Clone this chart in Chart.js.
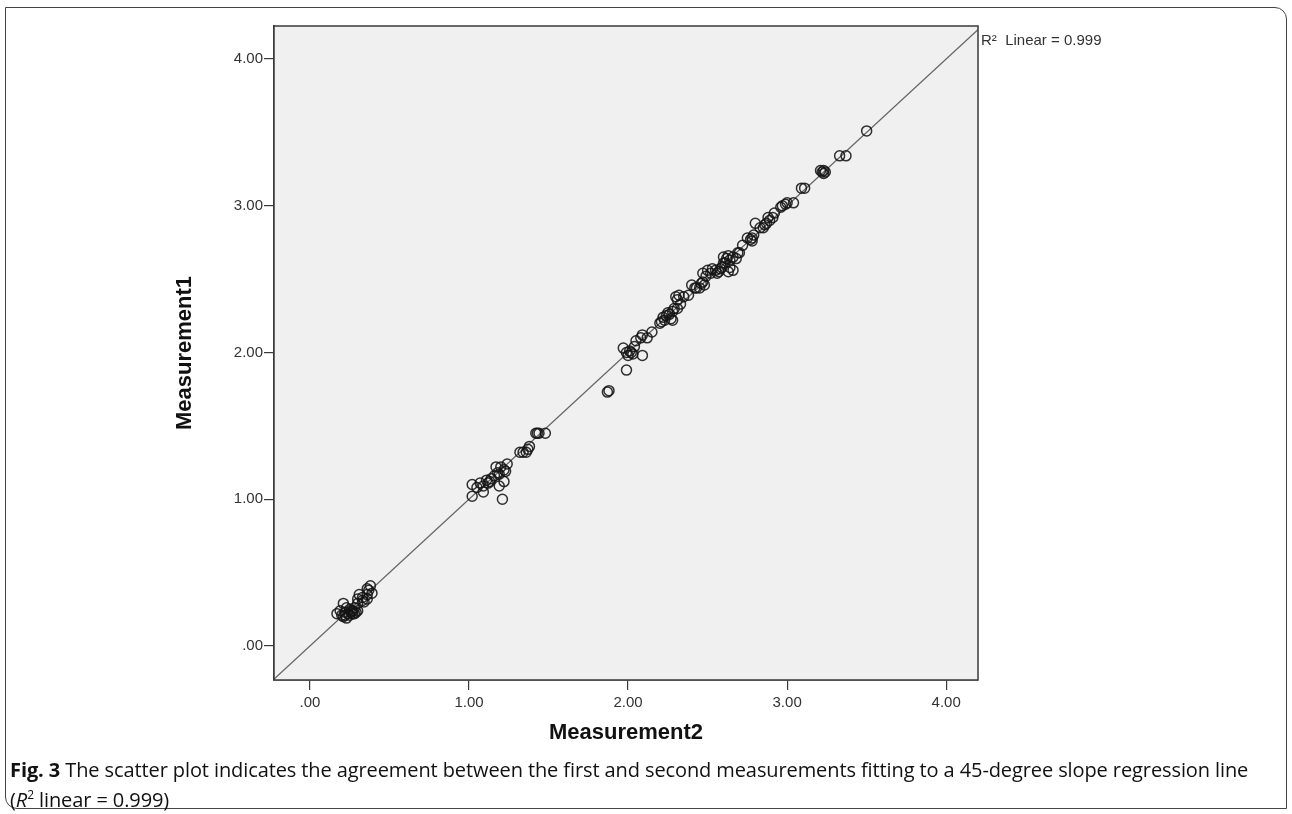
<!DOCTYPE html>
<html>
<head>
<meta charset="utf-8">
<script src="https://cdn.jsdelivr.net/npm/chart.js@4.4.1/dist/chart.umd.min.js"></script>
<style>
  html, body { margin: 0; padding: 0; background: #fff; }
  body { width: 1292px; height: 814px; position: relative; overflow: hidden; }
  #frame { position: absolute; left: 5px; top: 7px; width: 1282px; height: 802px;
           border: 1.5px solid #444; border-radius: 0 12px 0 12px; box-sizing: border-box; }
  #wrap { position: absolute; left: 0; top: 0; width: 1292px; height: 760px; }
  #caption { position: absolute; left: 10px; top: 757px; width: 1275px;
             font-family: "Open Sans", "Noto Sans", sans-serif; font-size: 20px; line-height: 25px; color: #111;
             letter-spacing: -0.1px; }
  #caption b { font-weight: 700; }
</style>
</head>
<body>
<div id="frame"></div>
<div id="wrap"><canvas id="c"></canvas></div>
<div id="caption"><b>Fig. 3</b> The scatter plot indicates the agreement between the first and second measurements fitting to a 45-degree slope regression line<br>(<i>R</i><sup style="font-size:12px">2</sup> linear = 0.999)</div>
<script>
// Measurement2 (x) and Measurement1 (y)
const measurement2 = [
  0.17,0.19,0.20,0.21,0.21,0.22,0.23,0.23,0.24,0.25,0.25,0.26,0.27,0.27,0.28,0.29,0.30,0.30,0.30,0.31,0.33,0.33,0.34,0.36,0.36,0.36,0.38,0.39,0.37,0.22,0.26,0.28,
  1.02,1.02,1.05,1.07,1.09,1.09,1.11,1.12,1.13,1.14,1.16,1.17,1.18,1.19,1.19,1.20,1.21,1.22,1.23,1.24,1.22,
  1.32,1.34,1.36,1.37,1.38,1.42,1.43,1.44,1.48,
  1.87,1.88,1.99,1.97,1.99,2.00,2.01,2.02,2.03,2.04,2.09,2.05,2.08,2.09,2.12,2.15,2.20,2.21,2.22,2.23,2.24,2.25,2.26,2.27,2.28,2.28,2.29,2.30,2.31,2.31,2.32,2.33,2.35,2.38,
  2.40,2.42,2.43,2.45,2.46,2.47,2.48,2.47,2.49,2.50,2.52,2.53,2.55,2.56,2.57,2.58,2.59,2.60,2.61,2.63,2.64,2.66,2.60,2.62,2.63,2.64,2.66,2.68,2.69,2.70,2.72,
  2.75,2.77,2.78,2.79,2.78,2.80,2.83,2.85,2.86,2.87,2.88,2.89,2.91,2.92,2.96,2.97,2.99,3.00,3.04,3.09,3.11,3.21,3.22,3.23,3.23,3.24,3.33,3.37,3.50
];
const measurement1 = [
  0.22,0.24,0.21,0.20,0.29,0.23,0.26,0.19,0.22,0.25,0.21,0.23,0.24,0.22,0.26,0.23,0.24,0.29,0.32,0.35,0.31,0.33,0.30,0.32,0.35,0.39,0.41,0.36,0.38,0.21,0.24,0.22,
  1.10,1.02,1.08,1.11,1.09,1.05,1.13,1.11,1.12,1.14,1.16,1.22,1.18,1.17,1.09,1.22,1.00,1.20,1.19,1.24,1.12,
  1.32,1.32,1.32,1.34,1.36,1.45,1.45,1.45,1.45,
  1.73,1.74,1.88,2.03,2.00,1.98,2.01,2.00,1.99,2.04,1.98,2.08,2.10,2.12,2.10,2.14,2.20,2.21,2.24,2.22,2.25,2.27,2.26,2.23,2.28,2.22,2.30,2.38,2.36,2.30,2.39,2.33,2.38,2.39,
  2.46,2.44,2.44,2.44,2.47,2.48,2.46,2.54,2.52,2.56,2.54,2.57,2.56,2.54,2.55,2.57,2.58,2.61,2.61,2.55,2.58,2.56,2.65,2.64,2.66,2.63,2.65,2.64,2.68,2.68,2.73,
  2.78,2.77,2.78,2.80,2.76,2.88,2.85,2.85,2.87,2.88,2.92,2.90,2.92,2.95,2.99,3.00,3.01,3.02,3.02,3.12,3.12,3.24,3.23,3.22,3.24,3.23,3.34,3.34,3.51
];
// Fit line (R² Linear = 0.999), endpoints beyond the axes, clipped to plot area
const fitX = [-0.3, 4.3];
const fitY = [-0.3, 4.3];
const tickValues = [0, 1, 2, 3, 4];
const r2Label = "R\u00B2  Linear = 0.999";

const points = measurement2.map((x, i) => ({ x: x, y: measurement1[i] }));
const fit = fitX.map((x, i) => ({ x: x, y: fitY[i] }));

const fmt = v => (v === 0 ? '.00' : v.toFixed(2));

const framePlugin = {
  id: 'framePlugin',
  beforeDatasetsDraw(chart) {
    const { ctx, chartArea: a } = chart;
    ctx.save();
    ctx.fillStyle = '#f0f0f0';
    ctx.fillRect(a.left, a.top, a.right - a.left, a.bottom - a.top);
    ctx.restore();
  },
  afterDraw(chart) {
    const { ctx, chartArea: a } = chart;
    ctx.save();
    ctx.strokeStyle = '#3a3a3a';
    ctx.lineWidth = 1.5;
    ctx.strokeRect(a.left, a.top, a.right - a.left, a.bottom - a.top);
    ctx.fillStyle = '#333';
    ctx.font = '15px "Liberation Sans", Arial, sans-serif';
    ctx.textBaseline = 'middle';
    ctx.textAlign = 'left';
    ctx.fillText(r2Label, a.right + 3, a.top + 15);
    ctx.restore();
  }
};

const tickFont = { family: '"Liberation Sans", Arial, sans-serif', size: 15 };
const titleFont = { family: '"Liberation Sans", Arial, sans-serif', size: 22, weight: 'bold' };

new Chart(document.getElementById('c'), {
  type: 'scatter',
  data: {
    datasets: [
      {
        type: 'line',
        data: fit,
        borderColor: '#666',
        borderWidth: 1.2,
        pointRadius: 0,
        fill: false,
        order: 2
      },
      {
        data: points,
        pointStyle: 'circle',
        pointRadius: 5,
        pointBorderWidth: 1.5,
        pointBorderColor: 'rgba(20,20,20,0.88)',
        pointBackgroundColor: 'rgba(0,0,0,0)',
        order: 1
      }
    ]
  },
  plugins: [framePlugin],
  options: {
    responsive: true,
    maintainAspectRatio: false,
    animation: false,
    layout: { padding: { left: 168, right: 314, top: 26, bottom: 10 } },
    plugins: { legend: { display: false }, tooltip: { enabled: false } },
    scales: {
      x: {
        type: 'linear',
        min: -0.226, max: 4.2,
        afterBuildTicks: s => { s.ticks = tickValues.map(v => ({ value: v })); },
        afterFit: s => { s.height = 70; },
        grid: { drawOnChartArea: false, drawTicks: true, tickLength: 10, color: '#3a3a3a', lineWidth: 1.2 },
        border: { display: true, color: '#3a3a3a', width: 1.5 },
        ticks: { callback: v => fmt(v), font: tickFont, color: '#333', padding: 4, maxRotation: 0 },
        title: { display: true, text: 'Measurement2', font: titleFont, color: '#111', padding: { top: 4, bottom: 4 } }
      },
      y: {
        type: 'linear',
        min: -0.232, max: 4.225,
        afterBuildTicks: s => { s.ticks = tickValues.map(v => ({ value: v })); },
        afterFit: s => { s.width = 106; },
        grid: { drawOnChartArea: false, drawTicks: true, tickLength: 10, color: '#3a3a3a', lineWidth: 1.2 },
        border: { display: true, color: '#3a3a3a', width: 1.5 },
        ticks: { callback: v => fmt(v), font: tickFont, color: '#333', padding: 1 },
        title: { display: true, text: 'Measurement1', font: titleFont, color: '#111', padding: { top: 4, bottom: 4 } }
      }
    }
  }
});
</script>
</body>
</html>
